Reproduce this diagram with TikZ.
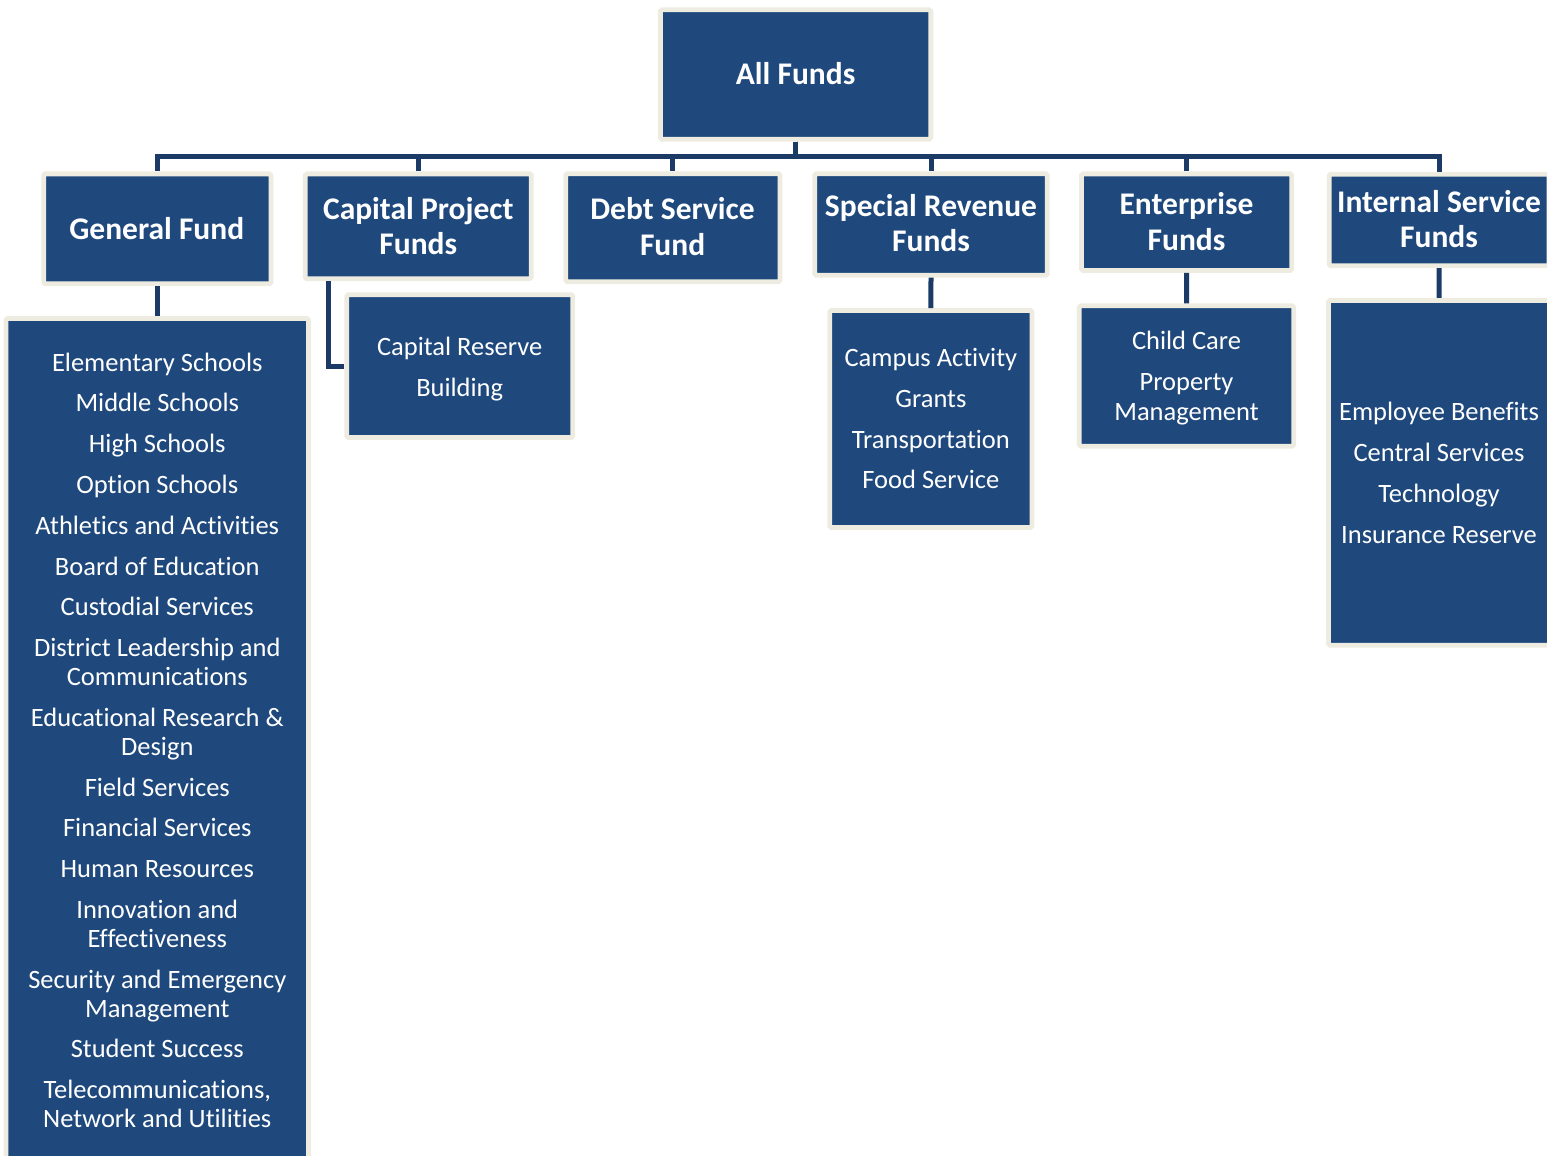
\documentclass[tikz,border=0pt]{standalone}
\usepackage{fontspec}
\setmainfont{Carlito}[Ligatures=NoCommon]
\definecolor{boxblue}{HTML}{1F497D}
\definecolor{boxrim}{HTML}{EEECE1}
\definecolor{linkblue}{HTML}{1B3A66}
\tikzset{
  fundbox/.style={rectangle, draw=boxrim, fill=boxblue, line width=4.8pt, rounded corners=1.5pt, inner sep=0pt},
  headtxt/.style={anchor=base, inner sep=0pt, text=white, font=\fontsize{31.5}{36}\selectfont\bfseries},
  bodytxt/.style={anchor=base, inner sep=0pt, text=white, font=\fontsize{26.5}{29}\selectfont},
  conn/.style={draw=linkblue, line width=5pt},
}
\begin{document}
\begin{tikzpicture}[x=1pt,y=-1pt]
\useasboundingbox (0,0) rectangle (1547,1156);
\clip (0,0) rectangle (1547,1156);

% ---- boxes ----
\node[fundbox, minimum width=270.5pt, minimum height=129.4pt] (all) at (795.6,74.5) {};
\node[fundbox, minimum width=227.2pt, minimum height=109.9pt] (gf) at (157.3,228.8) {};
\node[fundbox, minimum width=226pt, minimum height=104.9pt] (cp) at (418.3,226.3) {};
\node[fundbox, minimum width=214.2pt, minimum height=108pt] (ds) at (672.9,227.8) {};
\node[fundbox, minimum width=232.4pt, minimum height=101.4pt] (sr) at (931,224.5) {};
\node[fundbox, minimum width=210.3pt, minimum height=96.7pt] (ent) at (1186.6,222.2) {};
\node[fundbox, minimum width=219.6pt, minimum height=91.6pt] (isf) at (1439.1,220) {};

\node[fundbox, minimum width=302.5pt, minimum height=900pt] (gl) at (157.3,768.5) {};
\node[fundbox, minimum width=225.9pt, minimum height=142.8pt] (crb) at (459.7,366.1) {};
\node[fundbox, minimum width=202.2pt, minimum height=217pt] (srl) at (930.9,419) {};
\node[fundbox, minimum width=214.6pt, minimum height=140.4pt] (entl) at (1186.5,376) {};
\node[fundbox, minimum width=221pt, minimum height=344.9pt] (isl) at (1439,472.8) {};

% ---- connectors ----
\coordinate (bus) at (795.6,156.7);
\coordinate (cpx) at (328.2,0);
\foreach \c in {gf,cp,ds,sr,ent,isf}
  \draw[conn] (all.south) -- (all.south |- bus) -| (\c.north);
\draw[conn] (gf.south) -- (gl.north);
\draw[conn] (cp.south -| cpx) |- (crb.west);
\draw[conn] (sr.south) -- (srl.north);
\draw[conn] (ent.south) -- (entl.north);
\draw[conn] (isf.south) -- (isl.north);

\begin{scope}[yshift=-1.5pt]
% ---- header texts ----
\node[headtxt] (t-all) at (795.6,83.3) {All Funds};
\node[headtxt] (t-gf) at (156.8,237.8) {General Fund};
\node[headtxt] (t-cp1) at (418.3,217.7) {Capital Project};
\node[headtxt] (t-cp2) at (418.3,252.7) {Funds};
\node[headtxt] (t-ds1) at (672.6,218.3) {Debt Service};
\node[headtxt] (t-ds2) at (672.6,254.3) {Fund};
\node[headtxt] (t-sr1) at (931,215) {Special Revenue};
\node[headtxt] (t-sr2) at (931,250) {Funds};
\node[headtxt] (t-ent1) at (1186.5,213.3) {Enterprise};
\node[headtxt] (t-ent2) at (1186.5,249) {Funds};
\node[headtxt] (t-isf1) at (1439,210.7) {Internal Service};
\node[headtxt] (t-isf2) at (1439,246) {Funds};

\node[bodytxt] (crb1) at (459.7,354.3) {Capital Reserve};
\node[bodytxt] (crb2) at (459.7,395) {Building};

\foreach \yy/\txt [count=\i] in {364.7/Campus Activity, 405.6/Grants,
  446.5/Transportation, 487.4/Food Service}
  \node[bodytxt] (srl\i) at (930.9,\yy) {\txt};

\node[bodytxt] (entl1) at (1186.5,348.3) {Child Care};
\node[bodytxt] (entl2) at (1186.5,389.3) {Property};
\node[bodytxt] (entl3) at (1186.5,419) {Management};

\foreach \yy/\txt [count=\i] in {419.3/Employee Benefits, 460/Central Services,
  500.8/Technology, 541.5/Insurance Reserve}
  \node[bodytxt] (isl\i) at (1439,\yy) {\txt};
\end{scope}

% ---- general fund list ----
\foreach \yy/\txt [count=\i] in {
  371/Elementary Schools, 411.8/Middle Schools, 452.6/High Schools,
  493.4/Option Schools, 534.2/Athletics and Activities, 575/Board of Education,
  615.8/Custodial Services, 656.6/District Leadership and, 685.5/Communications,
  726.3/Educational Research \&, 755.2/Design, 796/Field Services,
  836.8/Financial Services, 877.6/Human Resources, 918.4/Innovation and,
  947.3/Effectiveness, 988.1/Security and Emergency, 1017/Management,
  1057.8/Student Success, 1098.6/{Telecommunications,}, 1127.5/Network and Utilities}
  \node[bodytxt] (gl\i) at (157.3,\yy) {\txt};
\end{tikzpicture}
\end{document}
